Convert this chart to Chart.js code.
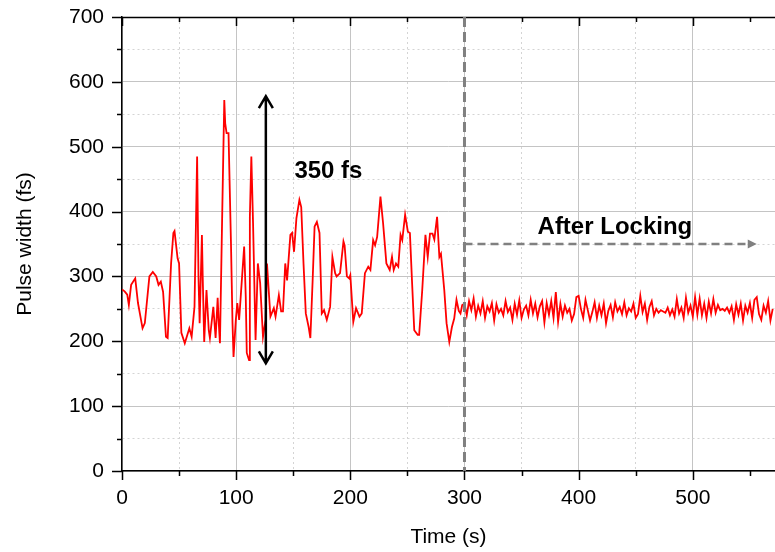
<!DOCTYPE html>
<html>
<head>
<meta charset="utf-8">
<script src="https://cdn.jsdelivr.net/npm/chart.js@4.4.1/dist/chart.umd.min.js"></script>
<style>
  html, body { margin: 0; padding: 0; background: #fff; }
</style>
</head>
<body>
<canvas id="pulseChart" width="775" height="552"></canvas>
<script>
// pulse width before locking (irregular samples)
const beforeTime = [0, 2.3, 4.6, 6, 8, 11.6, 14, 18, 20, 24, 27, 30, 32, 34, 36, 38.5, 40, 43, 45, 46,
  48.7, 50, 52, 55, 59, 61, 63.5, 65.8, 67, 68, 70, 70.7, 72, 74, 76, 77, 80, 82, 83.8, 84.6,
  85.8, 88, 89.6, 90.4, 91.6, 93.3, 95.4, 96.8, 97.7, 99.7, 101, 102.6, 104, 107, 108.4, 109.3, 111.3, 112, 113.3, 114.8,
  117, 119, 121, 123.5, 125.8, 127, 130, 133, 134.5, 137.4, 139.4, 141, 143, 144.6, 147.5, 149, 150.7, 152.8, 155.4, 157,
  159, 161, 163.5, 165, 167, 168.7, 170.7, 173, 175, 177, 179.4, 182.3, 184.3, 186.7, 188, 191, 194, 195, 197, 199,
  200, 202.6, 205, 208, 210, 212.8, 215.7, 217.6, 220, 221.7, 223.5, 226.4, 228.7, 231.6, 234.5, 236.5, 238, 240, 242, 244,
  245.5, 248, 250.4, 252.2, 254, 256, 259, 260.3, 263, 265.8, 267.8, 269.8, 272, 273.6, 276, 278, 279.4, 282.3, 284.3, 286.7,
  289, 291, 293, 295, 296.5, 298];
const beforeWidth = [280, 277, 272, 256, 287, 297, 259, 220, 228, 300, 307, 300, 287, 292, 276, 207, 205, 320, 367, 370,
  328, 320, 213, 197, 220, 207, 253, 485, 300, 228, 364, 300, 199, 279, 217, 205, 253, 205, 267, 233,
  197, 418, 572, 536, 521, 521, 356, 228, 176, 233, 259, 233, 269, 346, 269, 182, 171, 392, 485, 382,
  202, 320, 290, 207, 233, 320, 238, 251, 238, 271, 246, 246, 320, 294, 364, 367, 338, 390, 418, 407,
  320, 243, 222, 205, 294, 377, 384, 367, 243, 248, 233, 253, 330, 305, 300, 305, 354, 348, 300, 297,
  302, 230, 251, 238, 243, 305, 315, 310, 356, 348, 361, 423, 382, 320, 310, 330, 310, 320, 315, 364,
  356, 395, 369, 367, 294, 217, 210, 210, 279, 364, 330, 366, 366, 357, 392, 330, 335, 279, 228, 199,
  222, 235, 264, 247, 243, 256];

// pulse width after locking (every 2 s)
const afterTime = [300, 302, 304, 306, 308, 310, 312, 314, 316, 318, 320, 322, 324, 326, 328, 330, 332, 334, 336, 338,
  340, 342, 344, 346, 348, 350, 352, 354, 356, 358, 360, 362, 364, 366, 368, 370, 372, 374, 376, 378,
  380, 382, 384, 386, 388, 390, 392, 394, 396, 398, 400, 402, 404, 406, 408, 410, 412, 414, 416, 418,
  420, 422, 424, 426, 428, 430, 432, 434, 436, 438, 440, 442, 444, 446, 448, 450, 452, 454, 456, 458,
  460, 462, 464, 466, 468, 470, 472, 474, 476, 478, 480, 482, 484, 486, 488, 490, 492, 494, 496, 498,
  500, 502, 504, 506, 508, 510, 512, 514, 516, 518, 520, 522, 524, 526, 528, 530, 532, 534, 536, 538,
  540, 542, 544, 546, 548, 550, 552, 554, 556, 558, 560, 562, 564, 566, 568, 570];
const afterWidth = [258, 240, 262, 248, 266, 238, 255, 243, 262, 236, 254, 246, 259, 232, 257, 244, 250, 240, 262, 245,
  252, 233, 258, 241, 263, 236, 249, 255, 240, 264, 243, 258, 237, 254, 262, 229, 259, 241, 262, 236,
  276, 230, 258, 238, 255, 244, 250, 232, 242, 268, 270, 250, 236, 264, 248, 232, 245, 260, 236, 255,
  240, 258, 228, 247, 256, 237, 260, 246, 253, 242, 260, 240, 251, 246, 258, 236, 242, 270, 245, 258,
  233, 253, 262, 240, 250, 244, 248, 246, 244, 252, 240, 249, 238, 265, 243, 252, 236, 267, 244, 255,
  238, 268, 241, 266, 240, 258, 236, 261, 243, 265, 244, 256, 248, 250, 247, 252, 244, 254, 233, 257,
  241, 258, 232, 255, 244, 259, 236, 264, 268, 242, 233, 255, 244, 262, 232, 250];

// annotation values
const lockTime = 300;
const afterArrow = [300, 556, 350];   // from, to, level
const spanArrow = [126, 166, 578];    // time, low, high
const spanLabel = '350 fs';
const lockLabel = 'After Locking';

const FONT = '"Liberation Sans", Arial, sans-serif';

const allTime = beforeTime.concat(afterTime);
const allWidth = beforeWidth.concat(afterWidth);
const points = allTime.map((t, i) => ({ x: t, y: allWidth[i] }));

function onlyFifties(scale) {
  scale.ticks = scale.ticks.filter(t => t.value % 50 === 0);
}

const gridColor = ctx => (ctx.tick && ctx.tick.value % 100 !== 0) ? '#d4d4d4' : '#c4c4c4';
const gridDash = ctx => (ctx.tick && ctx.tick.value % 100 !== 0) ? [2, 3] : [];

const overlay = {
  id: 'overlay',
  afterDatasetsDraw(chart) {
    const { ctx, chartArea: a, scales: { x, y } } = chart;
    ctx.save();

    // tick marks: outward on left/bottom, inward on top
    ctx.strokeStyle = '#000';
    ctx.lineWidth = 1.5;
    ctx.beginPath();
    for (let v = 0; v <= 700; v += 50) {
      const py = Math.round(y.getPixelForValue(v)) + 0.5;
      const len = v % 100 === 0 ? 10 : 5;
      ctx.moveTo(a.left - len, py);
      ctx.lineTo(a.left, py);
    }
    for (let v = 0; v <= 550; v += 50) {
      const px = Math.round(x.getPixelForValue(v)) + 0.5;
      const len = v % 100 === 0 ? 9 : 5;
      ctx.moveTo(px, a.bottom);
      ctx.lineTo(px, a.bottom + len);
      ctx.moveTo(px, a.top);
      ctx.lineTo(px, a.top + len);
    }
    ctx.moveTo(a.left, a.top + 0.5);
    ctx.lineTo(a.right, a.top + 0.5);
    ctx.stroke();

    // locking time marker
    const lx = x.getPixelForValue(lockTime);
    ctx.strokeStyle = '#808080';
    ctx.lineWidth = 3;
    ctx.setLineDash([10, 5]);
    ctx.beginPath();
    ctx.moveTo(lx, a.top);
    ctx.lineTo(lx, a.bottom);
    ctx.stroke();

    // after locking arrow
    const ay = y.getPixelForValue(afterArrow[2]);
    const ax0 = x.getPixelForValue(afterArrow[0]);
    const ax1 = x.getPixelForValue(afterArrow[1]);
    ctx.lineWidth = 2.5;
    ctx.setLineDash([8, 5]);
    ctx.beginPath();
    ctx.moveTo(ax0, ay);
    ctx.lineTo(ax1 - 6, ay);
    ctx.stroke();
    ctx.setLineDash([]);
    ctx.fillStyle = '#808080';
    ctx.beginPath();
    ctx.moveTo(ax1, ay);
    ctx.lineTo(ax1 - 9, ay - 4.5);
    ctx.lineTo(ax1 - 9, ay + 4.5);
    ctx.closePath();
    ctx.fill();

    // 350 fs span arrow
    const sx = x.getPixelForValue(spanArrow[0]);
    const sy0 = y.getPixelForValue(spanArrow[1]);
    const sy1 = y.getPixelForValue(spanArrow[2]);
    ctx.strokeStyle = '#000';
    ctx.lineWidth = 2.5;
    ctx.beginPath();
    ctx.moveTo(sx, sy0);
    ctx.lineTo(sx, sy1);
    ctx.moveTo(sx - 7, sy1 + 12);
    ctx.lineTo(sx, sy1);
    ctx.lineTo(sx + 7, sy1 + 12);
    ctx.moveTo(sx - 7, sy0 - 12);
    ctx.lineTo(sx, sy0);
    ctx.lineTo(sx + 7, sy0 - 12);
    ctx.stroke();

    // labels
    ctx.fillStyle = '#000';
    ctx.font = 'bold 24px ' + FONT;
    ctx.textBaseline = 'alphabetic';
    ctx.textAlign = 'left';
    ctx.fillText(spanLabel, x.getPixelForValue(151), y.getPixelForValue(452));
    ctx.fillText(lockLabel, x.getPixelForValue(364), y.getPixelForValue(366));

    ctx.restore();
  }
};

new Chart(document.getElementById('pulseChart').getContext('2d'), {
  type: 'line',
  data: {
    datasets: [{
      data: points,
      borderColor: '#ff0000',
      borderWidth: 1.8,
      pointRadius: 0,
      fill: false,
      tension: 0
    }]
  },
  options: {
    responsive: false,
    animation: false,
    layout: { padding: { top: 17, right: 0, left: 0, bottom: 0 } },
    plugins: {
      legend: { display: false },
      tooltip: { enabled: false }
    },
    scales: {
      x: {
        type: 'linear',
        min: 0,
        max: 572,
        afterBuildTicks: onlyFifties,
        afterFit: s => { s.height = 81; },
        ticks: {
          stepSize: 50,
          autoSkip: false,
          maxRotation: 0,
          padding: 15,
          color: '#000',
          font: { family: FONT, size: 21 },
          callback: v => v % 100 === 0 ? v : ''
        },
        grid: { color: gridColor, lineWidth: 1, drawTicks: false },
        border: { color: '#000', width: 1.5, dash: gridDash },
        title: {
          display: true,
          text: 'Time (s)',
          color: '#000',
          font: { family: FONT, size: 21 },
          padding: { top: 0, bottom: 2 }
        }
      },
      y: {
        min: 0,
        max: 700,
        afterBuildTicks: onlyFifties,
        afterFit: s => { s.width = 122; s.paddingTop = 0; s.paddingBottom = 0; },
        ticks: {
          stepSize: 50,
          autoSkip: false,
          padding: 18,
          color: '#000',
          font: { family: FONT, size: 21 },
          callback: v => v % 100 === 0 ? v : ''
        },
        grid: { color: gridColor, lineWidth: 1, drawTicks: false },
        border: { color: '#000', width: 1.5, dash: gridDash },
        title: {
          display: true,
          text: 'Pulse width (fs)',
          color: '#000',
          font: { family: FONT, size: 21 },
          padding: { top: 13, bottom: 0 }
        }
      }
    }
  },
  plugins: [overlay]
});
</script>
</body>
</html>
